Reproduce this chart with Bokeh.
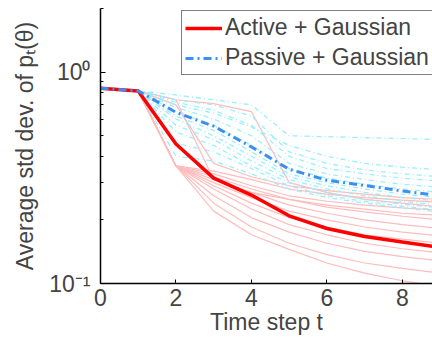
from bokeh.plotting import figure
from bokeh.models import FixedTicker, Legend, LegendItem, Range1d, CustomJSTickFormatter
from bokeh.embed import file_html
from bokeh.resources import INLINE

t = [0, 1, 2, 3, 4, 5, 6, 7, 8, 9]

active_mean = [0.84, 0.815, 0.457, 0.315, 0.262, 0.209, 0.182, 0.167, 0.157, 0.148]
passive_mean = [0.84, 0.815, 0.645, 0.555, 0.443, 0.347, 0.308, 0.291, 0.274, 0.26]

active_runs = [
    [0.84, 0.815, 0.74, 0.71, 0.65, 0.30, 0.27, 0.25, 0.24, 0.23],
    [0.84, 0.815, 0.74, 0.31, 0.27, 0.25, 0.235, 0.225, 0.215, 0.21],
    [0.84, 0.815, 0.36, 0.34, 0.31, 0.28, 0.265, 0.255, 0.248, 0.242],
    [0.84, 0.815, 0.36, 0.33, 0.29, 0.26, 0.245, 0.235, 0.228, 0.222],
    [0.84, 0.815, 0.36, 0.32, 0.28, 0.25, 0.23, 0.218, 0.208, 0.20],
    [0.84, 0.815, 0.36, 0.31, 0.27, 0.235, 0.215, 0.20, 0.19, 0.182],
    [0.84, 0.815, 0.36, 0.30, 0.255, 0.22, 0.20, 0.185, 0.175, 0.168],
    [0.84, 0.815, 0.36, 0.29, 0.24, 0.205, 0.185, 0.17, 0.162, 0.155],
    [0.84, 0.815, 0.36, 0.28, 0.225, 0.19, 0.17, 0.155, 0.146, 0.14],
    [0.84, 0.815, 0.36, 0.26, 0.205, 0.175, 0.155, 0.142, 0.134, 0.128],
    [0.84, 0.815, 0.36, 0.24, 0.185, 0.155, 0.137, 0.125, 0.118, 0.112],
    [0.84, 0.815, 0.36, 0.22, 0.17, 0.145, 0.125, 0.112, 0.103, 0.097],
    [0.84, 0.815, 0.70, 0.37, 0.32, 0.29, 0.275, 0.265, 0.255, 0.25],
]

passive_runs = [
    [0.84, 0.815, 0.78, 0.74, 0.70, 0.50, 0.495, 0.49, 0.485, 0.48],
    [0.84, 0.815, 0.74, 0.70, 0.62, 0.42, 0.37, 0.345, 0.33, 0.32],
    [0.84, 0.815, 0.72, 0.66, 0.56, 0.40, 0.35, 0.33, 0.315, 0.305],
    [0.84, 0.815, 0.68, 0.60, 0.50, 0.37, 0.33, 0.31, 0.295, 0.285],
    [0.84, 0.815, 0.65, 0.56, 0.45, 0.35, 0.315, 0.295, 0.28, 0.27],
    [0.84, 0.815, 0.62, 0.53, 0.42, 0.33, 0.30, 0.28, 0.265, 0.255],
    [0.84, 0.815, 0.60, 0.50, 0.40, 0.32, 0.29, 0.27, 0.255, 0.245],
    [0.84, 0.815, 0.56, 0.48, 0.38, 0.31, 0.28, 0.26, 0.245, 0.235],
    [0.84, 0.815, 0.52, 0.45, 0.36, 0.30, 0.27, 0.25, 0.237, 0.228],
    [0.84, 0.815, 0.46, 0.42, 0.35, 0.29, 0.26, 0.245, 0.232, 0.222],
    [0.84, 0.815, 0.40, 0.38, 0.33, 0.28, 0.255, 0.24, 0.228, 0.218],
    [0.84, 0.815, 0.70, 0.64, 0.55, 0.45, 0.40, 0.37, 0.355, 0.345],
]

x_ticks = [0, 2, 4, 6, 8]
y_major = [0.1, 1.0]
y_minor = [0.2, 0.3, 0.4, 0.5, 0.6, 0.7, 0.8, 0.9, 2.0]
legend_labels = ["Active + Gaussian", "Passive + Gaussian"]

FONT = "Liberation Sans"
FS = "23px"

p = figure(width=432, height=337, y_axis_type="log",
           x_range=Range1d(0, 8.8), y_range=Range1d(0.1, 2.0),
           output_backend="svg", toolbar_location=None,
           min_border_left=100, min_border_right=0, min_border_top=8,
           min_border_bottom=50)
p.outline_line_color = None
p.grid.visible = False
p.background_fill_color = "white"

for run in active_runs:
    p.line(t, run, line_color="#ffbcbc", line_width=1.2)
for run in passive_runs:
    p.line(t, run, line_color="#99eeff", line_width=1.3, line_dash="5 3 1 3")

r_act = p.line(t, active_mean, line_color="#ff0000", line_width=3.5)
r_pas = p.line(t, passive_mean, line_color="#3a8fef", line_width=3, line_dash="8 4 2 4")

legend = Legend(items=[LegendItem(label=legend_labels[0], renderers=[r_act]),
                       LegendItem(label=legend_labels[1], renderers=[r_pas])],
                location=(81, 208))
legend.border_line_color = "black"
legend.border_line_width = 1.5
legend.background_fill_alpha = 1
legend.padding = 3
legend.spacing = 3
legend.margin = 0
legend.glyph_width = 37
legend.glyph_height = 22
legend.label_height = 22
legend.label_standoff = 3
legend.label_text_font = FONT
legend.label_text_font_size = FS
p.add_layout(legend)

# x axis
xa = p.xaxis[0]
xa.ticker = FixedTicker(ticks=x_ticks)
xa.axis_line_color = "black"
xa.axis_line_width = 1.5
xa.major_tick_in = 4
xa.major_tick_out = 0
xa.minor_tick_line_color = None
xa.major_label_text_font = FONT
xa.major_label_text_font_size = FS
xa.major_label_standoff = 5
xa.axis_label = "Time step t"
xa.axis_label_text_font = FONT
xa.axis_label_text_font_size = FS
xa.axis_label_text_font_style = "normal"
xa.axis_label_standoff = 0

# y axis
ya = p.yaxis[0]
ya.ticker = FixedTicker(ticks=y_major, minor_ticks=y_minor)
ya.formatter = CustomJSTickFormatter(code="return tick < 0.5 ? '10\u207b\u00b9' : '10\u2070';")
ya.axis_line_color = "black"
ya.axis_line_width = 1.5
ya.major_tick_in = 5
ya.major_tick_out = 0
ya.minor_tick_in = 3
ya.minor_tick_out = 0
ya.major_label_text_font = FONT
ya.major_label_text_font_size = FS
ya.major_label_standoff = 10
ya.axis_label = "Average std dev. of p\u209c(\u03b8)"
ya.axis_label_text_font = FONT
ya.axis_label_text_font_size = FS
ya.axis_label_text_font_style = "normal"
ya.axis_label_standoff = 8

open("out.html", "w").write(file_html(p, INLINE))
